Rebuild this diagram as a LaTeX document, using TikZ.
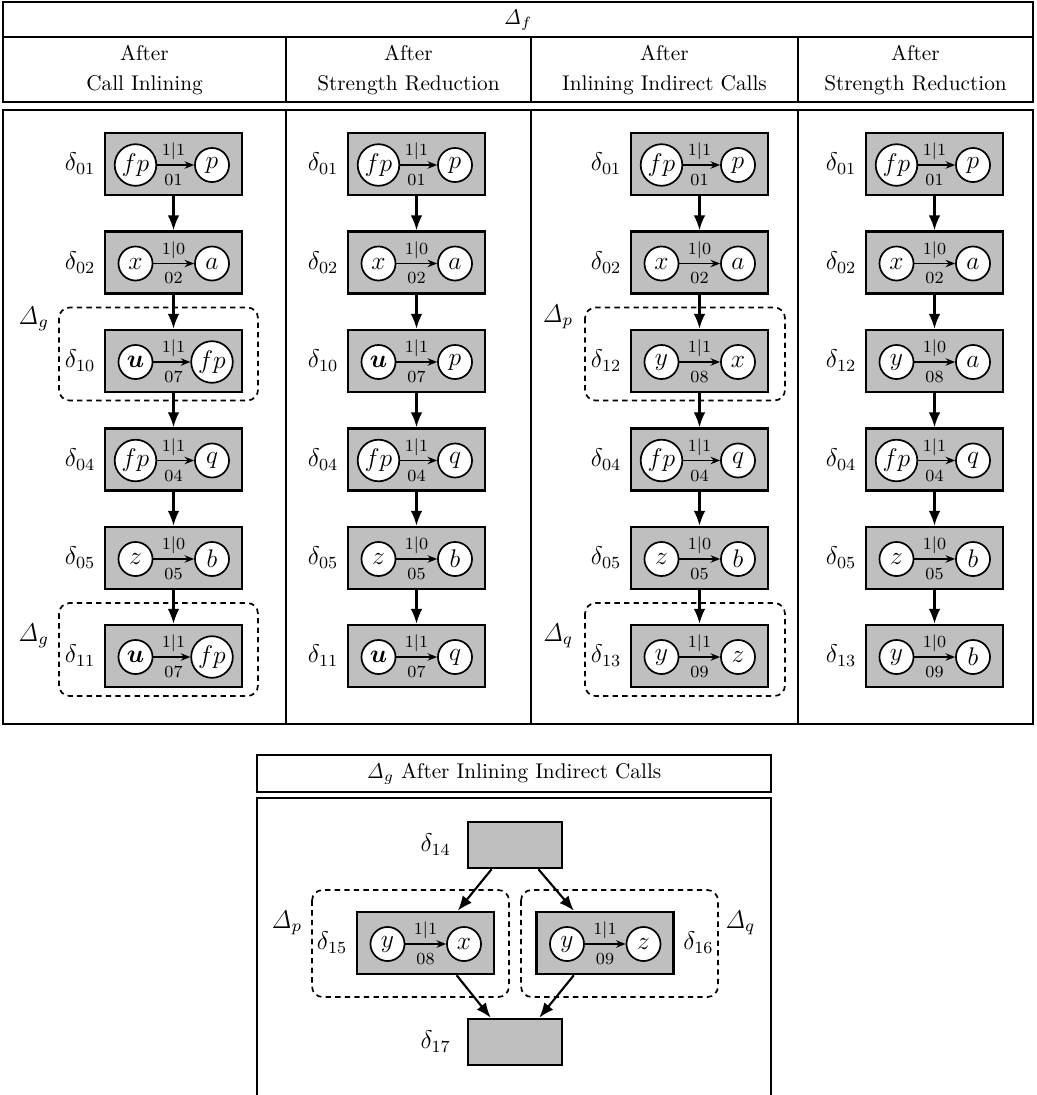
\documentclass[tikz,border=0pt]{standalone}
\usepackage{amsmath,amssymb}
\usetikzlibrary{arrows.meta,positioning}

% one statement: box, two variables, the edge between them
\newcommand{\stmt}[9][left]{%
  \node[blk] (#2) at (#3,#4) {};
  \node[var] (#2l) at (#3-38,#4+1) {$#6$};
  \node[var] (#2r) at (#3+38.5,#4+1) {$#7$};
  \draw[link] (#2l) -- (#2r);
  \node[tiny] (#2t) at (#3,#4-12.5) {$#8$};
  \node[tiny] (#2b) at (#3,#4+16) {#9};
  \node[dlt,#1=3.5pt of #2] (#2n) {$\delta_{#5}$};
}

\begin{document}
\begin{tikzpicture}[x=0.47pt,y=-0.47pt,line width=1pt,
  blk/.style={draw,fill=black!25,minimum width=64.4pt,minimum height=29.1pt,inner sep=0pt,line width=1.2pt},
  var/.style={draw,circle,fill=white,minimum size=16pt,inner sep=1pt,line width=0.8pt,font=\large},
  tiny/.style={font=\footnotesize,inner sep=0pt},
  dlt/.style={font=\large,inner sep=0pt},
  flow/.style={-{Latex[length=7pt,width=5.5pt]}},
  link/.style={-{Stealth[length=4.5pt,width=3.5pt]},line width=0.6pt},
  grp/.style={dashed,dash pattern=on 2.5pt off 2pt,rounded corners=5pt,line width=0.8pt},
  tbl/.style={line width=1.4pt}]
\useasboundingbox (0,0) rectangle (1037,1095);
%
% table of Delta_f
\draw[tbl] (3,2) rectangle (1033,102);
\draw[tbl] (3,37) -- (1033,37);
\draw (286,37) -- (286,102);
\draw[tbl] (531,37) -- (531,102);
\draw (798,37) -- (798,102);
\draw[tbl] (3,110) rectangle (1033,724);
\draw (286,110) -- (286,724);
\draw[tbl] (531,110) -- (531,724);
\draw (798,110) -- (798,724);
\node (tf) at (518,20) {$\mathit{\Delta}_f$};
\node[align=center] (h1) at (144.5,70) {After\\[2pt]Call Inlining};
\node[align=center] (h2) at (408.5,70) {After\\[2pt]Strength Reduction};
\node[align=center] (h3) at (664.5,70) {After\\[2pt]Inlining Indirect Calls};
\node[align=center] (h4) at (915.5,70) {After\\[2pt]Strength Reduction};
%
% after call inlining
\stmt{a01}{173.5}{164}{01}{fp}{p}{1|1}{01}
\stmt{a02}{173.5}{262.5}{02}{x}{a}{1|0}{02}
\stmt{a10}{173.5}{361}{10}{\boldsymbol{u}}{fp}{1|1}{07}
\stmt{a04}{173.5}{459.5}{04}{fp}{q}{1|1}{04}
\stmt{a05}{173.5}{558}{05}{z}{b}{1|0}{05}
\stmt{a11}{173.5}{656}{11}{\boldsymbol{u}}{fp}{1|1}{07}
\draw[grp] (59,307.5) rectangle (258,400.5);
\node[dlt,anchor=east] (ag1) at (50,319) {$\mathit{\Delta}_g$};
\draw[grp] (59,603) rectangle (258,696);
\node[dlt,anchor=east] (ag2) at (50,636) {$\mathit{\Delta}_g$};
\draw[flow] (a01) -- (a02);
\draw[flow] (a02) -- (a10);
\draw[flow] (a10) -- (a04);
\draw[flow] (a04) -- (a05);
\draw[flow] (a05) -- (a11);
%
% after strength reduction
\stmt{b01}{416.5}{164}{01}{fp}{p}{1|1}{01}
\stmt{b02}{416.5}{262.5}{02}{x}{a}{1|0}{02}
\stmt{b10}{416.5}{361}{10}{\boldsymbol{u}}{p}{1|1}{07}
\stmt{b04}{416.5}{459.5}{04}{fp}{q}{1|1}{04}
\stmt{b05}{416.5}{558}{05}{z}{b}{1|0}{05}
\stmt{b11}{416.5}{656}{11}{\boldsymbol{u}}{q}{1|1}{07}
\draw[flow] (b01) -- (b02);
\draw[flow] (b02) -- (b10);
\draw[flow] (b10) -- (b04);
\draw[flow] (b04) -- (b05);
\draw[flow] (b05) -- (b11);
%
% after inlining indirect calls
\stmt{c01}{699.5}{164}{01}{fp}{p}{1|1}{01}
\stmt{c02}{699.5}{262.5}{02}{x}{a}{1|0}{02}
\stmt{c12}{699.5}{361}{12}{y}{x}{1|1}{08}
\stmt{c04}{699.5}{459.5}{04}{fp}{q}{1|1}{04}
\stmt{c05}{699.5}{558}{05}{z}{b}{1|0}{05}
\stmt{c13}{699.5}{656}{13}{y}{z}{1|1}{09}
\draw[grp] (585,307.5) rectangle (785,400.5);
\node[dlt,anchor=east] (cp) at (574,317) {$\mathit{\Delta}_p$};
\draw[grp] (585,603) rectangle (785,696);
\node[dlt,anchor=east] (cq) at (574,636) {$\mathit{\Delta}_q$};
\draw[flow] (c01) -- (c02);
\draw[flow] (c02) -- (c12);
\draw[flow] (c12) -- (c04);
\draw[flow] (c04) -- (c05);
\draw[flow] (c05) -- (c13);
%
% after strength reduction
\stmt{d01}{934.5}{164}{01}{fp}{p}{1|1}{01}
\stmt{d02}{934.5}{262.5}{02}{x}{a}{1|0}{02}
\stmt{d12}{934.5}{361}{12}{y}{a}{1|0}{08}
\stmt{d04}{934.5}{459.5}{04}{fp}{q}{1|1}{04}
\stmt{d05}{934.5}{558}{05}{z}{b}{1|0}{05}
\stmt{d13}{934.5}{656}{13}{y}{b}{1|0}{09}
\draw[flow] (d01) -- (d02);
\draw[flow] (d02) -- (d12);
\draw[flow] (d12) -- (d04);
\draw[flow] (d04) -- (d05);
\draw[flow] (d05) -- (d13);
%
% Delta_g after inlining indirect calls
\draw[tbl] (257,755) rectangle (771,792);
\draw[tbl] (257,1097) |- (771,798) -- (771,1097);
\node (tg) at (514,773.5) {$\mathit{\Delta}_g$ After Inlining Indirect Calls};
\node[blk,minimum width=44.2pt,minimum height=21.6pt] (g14) at (515,845) {};
\node[dlt,left=7pt of g14] (g14n) {$\delta_{14}$};
\stmt{g15}{425.5}{943}{15}{y}{x}{1|1}{08}
\stmt[right]{g16}{605}{943}{16}{y}{z}{1|1}{09}
\node[blk,minimum width=44.2pt,minimum height=21.6pt] (g17) at (515,1042) {};
\node[dlt,left=7pt of g17] (g17n) {$\delta_{17}$};
\draw[grp] (312,890) rectangle (509,997);
\node[dlt,anchor=east] (gp) at (303,923) {$\mathit{\Delta}_p$};
\draw[grp] (521,890) rectangle (718,997);
\node[dlt,anchor=west] (gq) at (724,923) {$\mathit{\Delta}_q$};
\draw[flow] (g14.-134) -- (g15.45);
\draw[flow] (g14.-46) -- (g16.134);
\draw[flow] (g15.-46) -- (g17.135);
\draw[flow] (g16.-134) -- (g17.45);
\end{tikzpicture}
\end{document}
